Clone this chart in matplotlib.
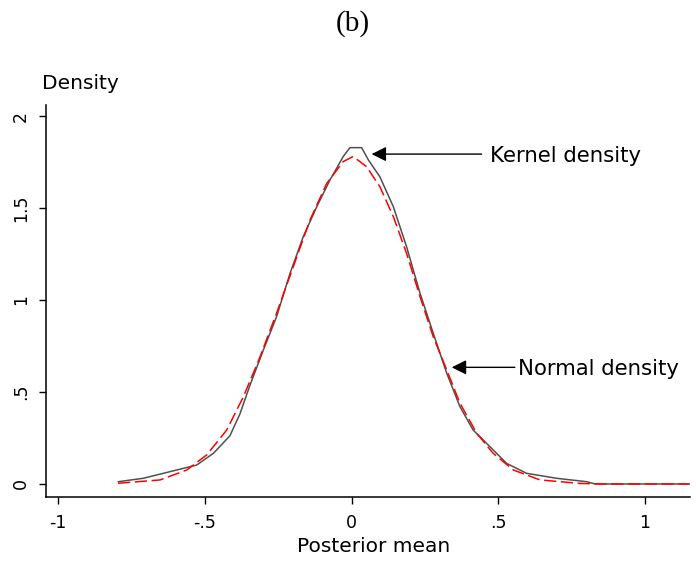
import matplotlib
matplotlib.use('Agg')
import matplotlib.pyplot as plt

# kernel density estimate of the posterior means
kernel_x = [-0.795, -0.71, -0.619, -0.528, -0.471, -0.415, -0.381, -0.347, -0.301, -0.256,
            -0.210, -0.165, -0.119, -0.074, -0.029, -0.006, 0.034, 0.057, 0.096, 0.142,
            0.187, 0.233, 0.278, 0.324, 0.369, 0.414, 0.471, 0.528, 0.596, 0.698,
            0.80, 0.83, 1.15]
kernel_y = [0.0125, 0.031, 0.067, 0.103, 0.167, 0.262, 0.380, 0.535, 0.728, 0.909,
            1.145, 1.344, 1.507, 1.652, 1.779, 1.828, 1.828, 1.761, 1.670, 1.507,
            1.29, 1.036, 0.819, 0.602, 0.420, 0.293, 0.203, 0.112, 0.058, 0.031,
            0.0125, 0.0, 0.0]

# normal density with the same mean / sd
normal_x = [-0.796, -0.653, -0.562, -0.494, -0.426, -0.369, -0.312, -0.256, -0.199, -0.142,
            -0.085, -0.029, 0.005, 0.051, 0.096, 0.142, 0.187, 0.233, 0.278, 0.324,
            0.369, 0.426, 0.482, 0.551, 0.642, 0.778, 0.85, 1.15]
normal_y = [0.004, 0.022, 0.076, 0.158, 0.293, 0.474, 0.692, 0.928, 1.181, 1.435,
            1.634, 1.752, 1.780, 1.724, 1.616, 1.453, 1.254, 1.018, 0.80, 0.62,
            0.439, 0.276, 0.167, 0.076, 0.022, 0.003, 0.0, 0.0]

xticks = [-1, -0.5, 0, 0.5, 1]
xtick_labels = ['-1', '-.5', '0', '.5', '1']
yticks = [0, 0.5, 1, 1.5, 2]
ytick_labels = ['0', '.5', '1', '1.5', '2']

W, H = 696, 561
fig = plt.figure(figsize=(6.96, 5.61), dpi=100)
ax = fig.add_axes([0.0668, 0.1141, 0.9246, 0.6988])

ax.plot(kernel_x, kernel_y, color='#505050', lw=1.1)
ax.plot(normal_x, normal_y, color='#ff0000', lw=1.1, dashes=(8, 3))

ax.set_xlim(-1.040, 1.153)
ax.set_ylim(-0.0707, 2.06)

ax.spines['top'].set_visible(False)
ax.spines['right'].set_visible(False)
ax.spines['left'].set_linewidth(1.1)
ax.spines['bottom'].set_linewidth(1.1)

ax.set_xticks(xticks)
ax.set_xticklabels(xtick_labels, fontsize=12.5)
ax.set_yticks(yticks)
ax.set_yticklabels(ytick_labels, fontsize=12.5, rotation=90, va='center')
ax.tick_params(direction='out', length=5, width=1, pad=7)

fig.text(374 / W, 1 - 552 / H, 'Posterior mean', fontsize=14.5, ha='center', va='baseline')
fig.text(42 / W, 1 - 89 / H, 'Density', fontsize=14.5, ha='left', va='baseline')
fig.text(353 / W, 1 - 24 / H, '(b)', fontsize=21, ha='center', va='center',
         family='Liberation Serif')

arrow = dict(arrowstyle='-|>', color='black', lw=1, mutation_scale=22,
             shrinkA=0, shrinkB=0)
ax.annotate('', xy=(0.068, 1.793), xytext=(0.443, 1.793), arrowprops=arrow)
ax.text(0.471, 1.793, 'Kernel density', fontsize=15.3, va='center_baseline', ha='left')
ax.annotate('', xy=(0.341, 0.634), xytext=(0.556, 0.634), arrowprops=arrow)
ax.text(0.568, 0.634, 'Normal density', fontsize=15.3, va='center_baseline', ha='left')

fig.savefig('out.png', dpi=100)
